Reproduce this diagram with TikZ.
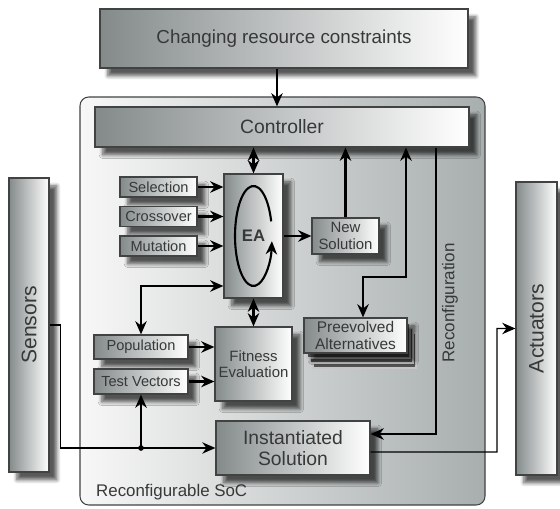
\documentclass[tikz,border=0pt]{standalone}
\usepackage{fontspec}
\setmainfont{Liberation Sans}
\usepackage{tikz}
\usetikzlibrary{
arrows.meta,
positioning,
shadows,
shadows.blur,
calc
}
\definecolor{boxgray}{RGB}{132,138,138}
\definecolor{socgray}{RGB}{168,174,174}
\definecolor{txtgray}{RGB}{55,57,57}
\definecolor{edgegray}{RGB}{65,67,67}

\begin{document}
\begin{tikzpicture}[
  >={Stealth[length=7.5pt,width=6.5pt]},
  every node/.style={text=txtgray},
  box/.style={draw=edgegray, line width=0.7pt,
              left color=boxgray, right color=white,
              align=center, inner sep=0pt,
              blur shadow={shadow xshift=4.5pt, shadow yshift=-4.5pt,
                           shadow blur steps=6, shadow opacity=65}},
  opbox/.style={box, minimum width=1.54cm, minimum height=0.4cm,
                font=\fontsize{8.3}{9.5}\selectfont},
  inbox/.style={box, minimum width=1.88cm, minimum height=0.48cm,
                font=\fontsize{8.3}{9.5}\selectfont},
  stackbox/.style={draw=gray!45, line width=0.6pt, fill=black!68,
                   minimum width=2.06cm, minimum height=0.7cm},
  bar/.style={box, minimum width=0.8cm, minimum height=5.88cm,
              font=\fontsize{12}{14}\selectfont},
  arrow/.style={->, line width=1.2pt},
  dblarrow/.style={<->, line width=1.2pt},
  link/.style={->, line width=0.8pt}
]
\useasboundingbox (0,0) rectangle (11.2,10.16);

%% ── RECONFIGURABLE SOC FRAME ─────────────────────────────────
\node[draw=edgegray, line width=0.6pt, rounded corners=5pt,
      left color=gray!6, right color=socgray,
      minimum width=8.1cm, minimum height=8.16cm] (soc) at (5.65,4.14) {};
\node[anchor=west, font=\fontsize{9.6}{11}\selectfont] (soclbl)
  at (1.8,0.32) {Reconfigurable SoC};

%% ── TOP ──────────────────────────────────────────────────────
\node[box, minimum width=7.36cm, minimum height=1.18cm,
      font=\fontsize{10.7}{12}\selectfont] (cons) at (5.68,9.39)
  {Changing resource constraints};
\node[box, minimum width=7.48cm, minimum height=0.8cm,
      font=\fontsize{11}{13}\selectfont] (ctrl) at (5.64,7.62)
  {Controller};

%% ── EVOLUTIONARY ALGORITHM ───────────────────────────────────
\node[box, minimum width=1.18cm, minimum height=2.48cm,
      font=\bfseries\fontsize{9.5}{11}\selectfont] (ea) at (5.07,5.44) {EA};
\draw[arrow] ([shift={(17:0.37cm and 1cm)}]ea.center)
  arc[start angle=17, end angle=354, x radius=0.37cm, y radius=1cm];

\node[opbox] (sel)   at (3.17,6.42) {Selection};
\node[opbox] (cross) at (3.17,5.83) {Crossover};
\node[opbox] (mut)   at (3.17,5.24) {Mutation};

\node[box, minimum width=1.34cm, minimum height=0.72cm,
      font=\fontsize{8.5}{9.6}\selectfont] (newsol) at (6.91,5.44)
  {New\\Solution};

%% Preevolved alternatives (stacked)
\foreach \s in {3,2,1}
  \node[stackbox, xshift=\s*0.06cm, yshift=-\s*0.1cm] (pre\s) at (7.11,3.45) {};
\node[box, minimum width=2.06cm, minimum height=0.7cm,
      font=\fontsize{8.8}{9.2}\selectfont] (pre) at (7.11,3.45)
  {Preevolved\\Alternatives};

%% ── FITNESS ──────────────────────────────────────────────────
\node[box, minimum width=1.54cm, minimum height=1.48cm,
      font=\fontsize{8.5}{8.9}\selectfont] (fit) at (5.07,2.88)
  {Fitness\\Evaluation};
\node[inbox] (pop) at (2.82,3.22) {Population};
\node[inbox, minimum height=0.5cm] (tv) at (2.82,2.53) {Test Vectors};

\node[box, minimum width=3.08cm, minimum height=1.08cm,
      font=\fontsize{11}{11.5}\selectfont] (inst) at (5.86,1.20)
  {Instantiated\\Solution};

%% ── SENSORS / ACTUATORS ──────────────────────────────────────
\node[bar] (sens) at (0.58,3.66) {\rotatebox{90}{Sensors}};
\node[bar, minimum width=0.82cm, minimum height=5.86cm] (act)
  at (10.73,3.59) {\rotatebox{90}{Actuators}};

%% Arrows
\draw[arrow] ([xshift=-0.14cm]cons.south) -- ([xshift=-0.1cm]ctrl.north);
\draw[dblarrow] (ea.north) -- (ea.north |- ctrl.south);
\foreach \op in {sel,cross,mut}
  \draw[arrow] (\op.east) -- (ea.west |- \op.east);
\draw[arrow] (ea.east) -- (newsol.west);
\draw[arrow] (newsol.north) -- (newsol.north |- ctrl.south);

\coordinate (prebend) at (8.12,4.62);
\draw[dblarrow] ([xshift=0.15cm]pre.north) |- (prebend) -- (prebend |- ctrl.south);

\coordinate (recbend) at (8.72,1.48);
\draw[arrow] (recbend |- ctrl.south) -- (recbend) -- (recbend -| inst.east);
\node[rotate=90, font=\fontsize{9.7}{11}\selectfont] (reclbl)
  at (9.0,4.1) {Reconfiguration};

\draw[dblarrow] (ea.south) -- (fit.north);
\foreach \src in {pop,tv}
  \draw[arrow] (\src.east) -- (fit.west |- \src.east);
\draw[dblarrow] (pop.north) |- ([yshift=-1cm]ea.west);

\draw[link] (sens.east) -- ++(0.22,0) |- (inst.west);
\coordinate (junc) at (tv.south |- inst.west);
\fill (junc) circle (1.6pt);
\draw[arrow] (junc) -- (tv.south);

\coordinate (actbend) at (9.94,1.12);
\draw[link] ([yshift=-0.08cm]inst.east) -- (actbend) |- (act.west);

\end{tikzpicture}
\end{document}
